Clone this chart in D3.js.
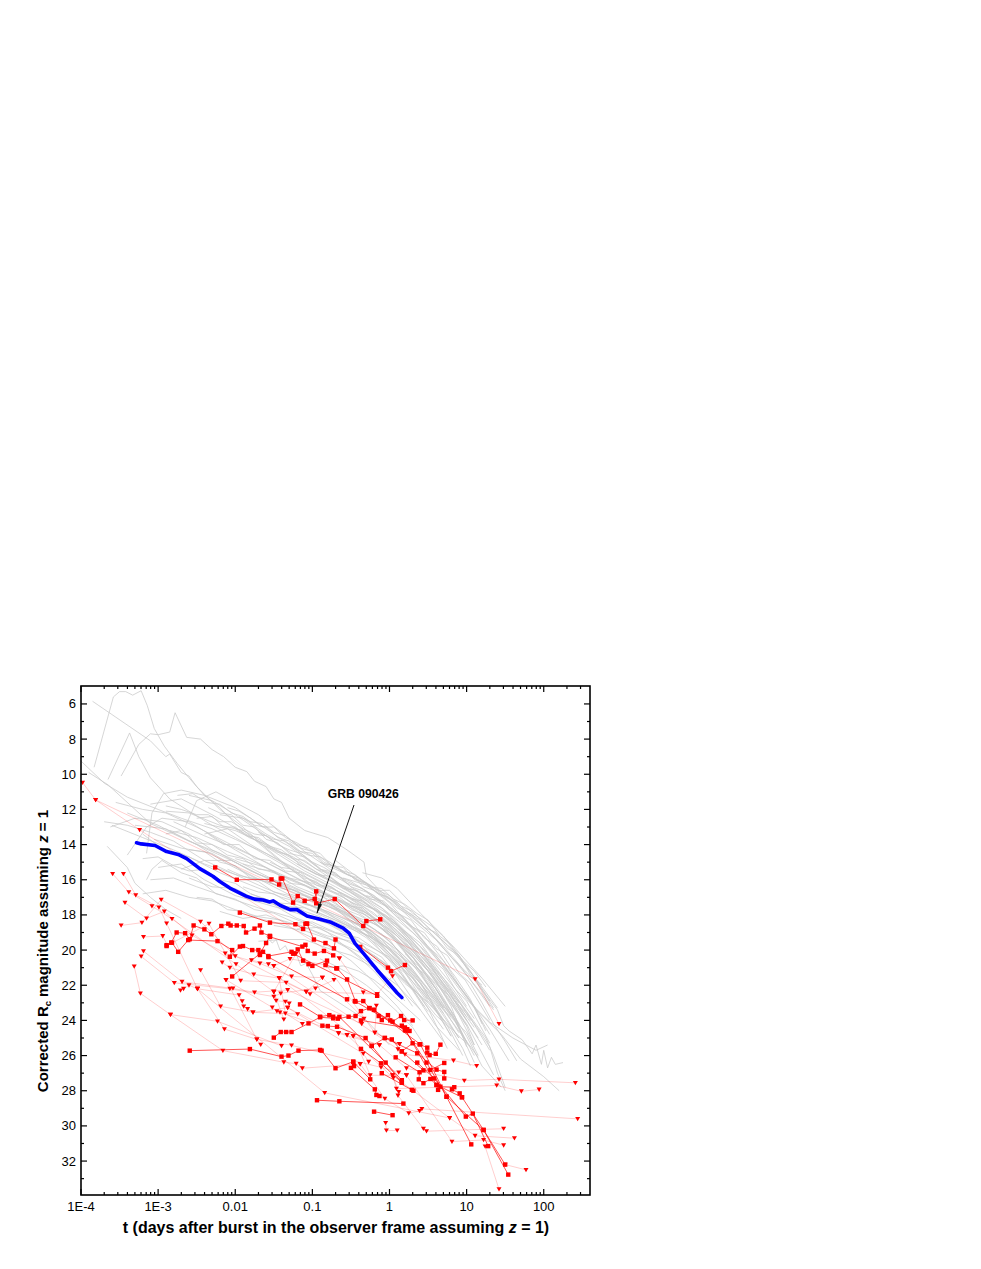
<!DOCTYPE html>
<html><head><meta charset="utf-8"><script src="https://d3js.org/d3.v7.min.js"></script>
<style>html,body{margin:0;background:#fff}svg{display:block}text{font-family:"Liberation Sans",Arial,sans-serif;fill:#000}</style></head>
<body><svg id="c" width="981" height="1269"></svg>
<script>
// All series are [log10(t in days), corrected Rc magnitude]
const xTickLabels=["1E-4","1E-3","0.01","0.1","1","10","100"];
const yTickValues=[6,8,10,12,14,16,18,20,22,24,26,28,30,32];
const annotationText="GRB 090426";
const annotationFrom=[-.46,11.75], annotationTo=[-.94,17.9], annotationLabel=[-.34,11.35];
const blueCurve=[[-3.28,13.9],[-3.22,13.96],[-3.04,14.05],[-2.89,14.4],[-2.74,14.56],[-2.63,14.8],[-2.46,15.37],[-2.29,15.8],[-2.2,16.1],[-2.07,16.47],[-1.86,16.93],[-1.75,17.1],[-1.64,17.15],[-1.55,17.26],[-1.51,17.2],[-1.42,17.45],[-1.29,17.7],[-1.2,17.7],[-1.07,18.06],[-.9,18.25],[-.77,18.4],[-.6,18.75],[-.52,19.05],[-.45,19.6],[-.34,20.17],[-.16,21.13],[.1,22.44],[.16,22.7]];
const grayCurves=[
[[-3.83,9.6],[-3.58,5.6],[-3.5,5.3],[-3.42,5.3],[-3.33,5.5],[-3.22,5.25],[-3.14,6.1],[-3.05,7.4],[-2.92,8.4],[-2.75,9.4],[-2.6,10.2],[-2.4,11.2],[-2.2,11.9],[-2,12.8],[-1.7,13.9],[-1.4,15],[-1,16.3],[-.7,17.3],[-.4,18.5],[0,20.4],[.3,22.3],[.6,24.3],[.9,25.7]],
[[-3.85,5.85],[-3.6,6.6],[-3.3,7.5],[-3.1,8.1],[-2.9,9],[-2.85,8.85],[-2.7,9.9],[-2.6,10.1],[-2.5,10.7],[-2.2,12],[-1.9,13],[-1.6,14.2],[-1.3,15.3],[-1,16.4],[-.6,18],[-.2,19.6],[.2,21.6],[.5,23.5]],
[[-3.65,10.3],[-3.37,7.65],[-3.25,9],[-3.1,10.2],[-2.85,11.4],[-2.6,12.1],[-2.3,12.9],[-2,13.6],[-1.6,14.6],[-1.2,15.6],[-.8,16.5],[-.4,17.5],[0,19],[.3,20.6],[.7,23.3]],
[[-3.48,10.1],[-3.25,8.3],[-3.1,7.7],[-3,7.75],[-2.85,7.6],[-2.78,6.5],[-2.63,7.9],[-2.45,8],[-2.3,8.6],[-2.15,9],[-2,9.6],[-1.85,9.85],[-1.75,10.4],[-1.6,10.7],[-1.5,11.4],[-1.4,11.6],[-1.3,12.5],[-1.1,13.2],[-.8,13.6],[-.55,14.3],[-.33,15],[-.3,15.8],[-.13,16.6],[0,16.6],[.3,17.9],[.6,18.8],[.85,19.9],[1.2,21.6],[1.5,23.2]],
[[-4,9.25],[-3.7,10.5],[-3.4,11.3],[-3,12],[-2.7,12.5],[-2.3,13.1],[-2,13.7],[-1.6,14.5],[-1.2,15.4],[-.8,16.3],[-.4,17.4],[0,18.9],[.3,20.4],[.6,22.2],[.85,24],[1.1,26]],
[[-3.9,9.9],[-3.65,10.6],[-3.3,12],[-3.1,12.8],[-2.8,13.4],[-2.4,14.2],[-2,15],[-1.6,15.9],[-1.2,16.7],[-.8,17.5],[-.4,18.4],[0,19.7],[.3,21.1],[.6,22.9],[.9,25]],
[[-3.66,14.1],[-3.4,15.3],[-3.3,16.2],[-3.1,17],[-2.9,17.7],[-2.7,18.2]],
[[-3.4,14.6],[-3.15,13],[-2.95,12.5],[-2.6,12.7],[-2.3,13.5],[-2,14.3],[-1.6,15.3],[-1.2,16.4],[-.8,17.1],[-.4,18.2],[0,19.4],[.4,21.8],[.8,24.9]],
[[-3.15,14.5],[-3.08,12.2],[-2.93,11.1],[-2.7,10.9],[-2.4,11.2],[-2,11.9],[-1.7,12.8],[-1.3,14],[-1,15],[-.6,16.4],[-.2,17.7],[.2,19.3],[.5,21],[.8,23.2],[1,25.5]],
[[-2.65,13],[-2.5,11.5],[-2.25,11],[-2,11.6],[-1.7,12.3],[-1.4,13.3],[-1.1,14.4],[-.8,15.3],[-.5,16.4],[-.1,17.6],[.3,19.5],[.7,22],[1.1,24.4]],
[[-3.7,12.7],[-3.4,12.9],[-3.1,13.3],[-2.8,13.8],[-2.4,14.9],[-2,15.7],[-1.6,16.5],[-1.2,17.2],[-.8,17.8],[-.4,18.6],[0,20],[.3,21.5],[.7,24]],
[[-3.62,13],[-3.3,12.5],[-2.95,12.7],[-2.6,13.4],[-2.3,14.3],[-1.9,15.1],[-1.5,16],[-1.1,16.9],[-.7,17.7],[-.3,18.9],[.1,20.6],[.5,23.3],[.75,25.6]],
[[-3.55,11.6],[-3.2,12],[-2.9,12.2],[-2.5,13],[-2.1,13.9],[-1.7,14.8],[-1.3,15.7],[-.9,16.6],[-.5,17.6],[-.1,18.8],[.3,20.4],[.6,22.2],[1,25.2]],
[[-3.4,12.2],[-3,12.9],[-2.6,13.8],[-2.2,14.5],[-1.8,15.5],[-1.4,16.2],[-1,16.9],[-.6,17.8],[-.2,19.2],[.2,21.2],[.5,23]],
[[-3.2,13.4],[-2.9,14.4],[-2.6,14.7],[-2.2,15.6],[-1.8,16.3],[-1.4,17],[-1,17.5],[-.6,18.3],[-.2,19.4],[.2,21],[.5,22.7],[.8,24.9]],
[[-3,15.3],[-2.7,15.1],[-2.4,16],[-2,16.9],[-1.6,17.4],[-1.2,17.9],[-.8,18.5],[-.4,19.5],[0,21.3],[.3,23.2]],
[[-2.85,13.2],[-2.5,13.6],[-2.1,14.4],[-1.7,15.1],[-1.3,16],[-.9,16.7],[-.5,17.4],[-.1,18.4],[.3,20],[.7,22.4],[1,24.3]],
[[-2.9,12.1],[-2.6,12.2],[-2.2,12.9],[-1.9,13.2],[-1.5,14.2],[-1.1,15.2],[-.7,16.2],[-.3,17.2],[.1,18.6],[.4,20],[.8,22.6],[1.2,25.4]],
[[-2.6,11.2],[-2.3,11.5],[-2,12.3],[-1.6,13.5],[-1.2,14.7],[-.8,15.8],[-.4,16.9],[0,18],[.4,19.8],[.7,21.6],[1,23.5],[1.3,25.7]],
[[-3.1,11.7],[-2.7,11.4],[-2.3,12.3],[-1.9,13.3],[-1.5,14.4],[-1.1,15.5],[-.7,16.4],[-.3,17.4],[.1,18.6],[.5,20.5],[.9,23]],
[[-3.6,12.9],[-3.2,13.6],[-2.8,14.3],[-2.4,15.1],[-2,15.7],[-1.6,16.1],[-1.2,16.8],[-.8,17.3],[-.4,18],[0,19],[.4,20.9],[.8,23.5],[1.1,26.4]],
[[-2.4,13.4],[-2.1,13.1],[-1.8,14],[-1.4,15],[-1,15.9],[-.6,16.8],[-.2,17.9],[.2,19.5],[.6,21.7],[1,24.2],[1.35,27.1]],
[[-2.7,15.4],[-2.4,14.9],[-2.05,14.9],[-1.7,15.7],[-1.3,16.3],[-.9,17.1],[-.5,18],[-.1,19.1],[.3,20.8],[.6,22.6],[.9,24.7]],
[[-2.2,12.3],[-1.9,12.5],[-1.6,13.4],[-1.3,14.1],[-.9,15.4],[-.5,16.1],[-.1,17.2],[.3,18.8],[.7,20.8],[1.1,23.3],[1.3,24.8]],
[[-3.1,16],[-2.8,15.9],[-2.5,16.4],[-2.1,17],[-1.7,17.6],[-1.3,18.1],[-.9,18.8],[-.5,19.6],[-.1,20.6],[.3,22.1],[.7,24.5]],
[[-1.6,19.2],[-1.52,19.6],[-1.47,19.4],[-1.42,20],[-1.35,19.75],[-1.3,20.2],[-1.22,20.1],[-1.15,20.9],[-1.08,20.75],[-1,21.4],[-.9,22.3],[-.65,23],[-.3,24],[0,25.4]],
[[-1.8,16.8],[-1.5,17.3],[-1.2,17.4],[-.8,18.1],[-.4,18.9],[0,19.9],[.4,21.9],[.75,24.3],[.95,26]],
[[-1.9,15.1],[-1.5,15.6],[-1.1,16.3],[-.7,17.1],[-.3,17.9],[.1,19.2],[.5,21.2],[.9,23.7],[1.1,25.4]],
[[-1.6,14.1],[-1.25,14.7],[-.9,15.7],[-.5,16.6],[-.1,17.6],[.3,19],[.6,20.3],[1,22.6],[1.3,24.5],[1.55,26.3]],
[[-1.4,15.8],[-1,16.2],[-.6,17],[-.2,18.2],[.2,19.8],[.6,22],[1,24.9],[1.2,26.6],[1.45,27.8]],
[[-1.2,15.1],[-.85,15.9],[-.45,16.6],[-.05,17.5],[.35,19.2],[.75,21.2],[1.15,23.5],[1.45,24.8],[1.7,26.2],[2,27.2],[2.2,28]],
[[-.9,15],[-.6,15.6],[-.3,16.2],[0,17.1],[.3,18.3],[.6,19.4],[.9,20.9],[1.2,22.5],[1.35,23.4]],
[[-.7,14.9],[-.4,15.9],[-.1,16.7],[.2,17.8],[.5,18.9],[.8,20.4],[1.1,21.7],[1.4,23.4],[1.48,24.3],[1.55,24.6],[1.72,25.1],[1.85,25.9],[1.9,25.4],[1.97,26.5],[2,25.7],[2.05,26.7],[2.1,26.1],[2.15,26.5],[2.25,26.4]],
[[-.6,15.9],[-.3,16.3],[0,17.3],[.3,18.8],[.6,20.4],[1,22.8],[1.3,24.1],[1.6,25],[1.9,25.7],[2.05,25.4]],
[[-.35,15.6],[-.1,15.9],[.1,16.5],[.4,17.9],[.7,19.2],[.95,20.7],[1.2,22.1],[1.4,23.3]],
[[-1.1,17.3],[-.7,18],[-.3,18.7],[.1,20],[.5,22.2],[.9,24.6],[1.15,26.1]],
[[-1.5,18.6],[-1.1,18.9],[-.7,19.5],[-.3,20.3],[.1,21.4],[.5,23],[.9,24.9],[1.05,25.5]],
[[-.5,18.3],[-.2,19.2],[.1,20.4],[.4,21.9],[.7,23.4],[1,24.7],[1.15,26]],
[[-.15,18],[.1,18.9],[.4,20.3],[.7,21.9],[1,23.5],[1.25,25],[1.35,26],[1.5,27.8]],
[[-2,14.8],[-1.6,15.3],[-1.2,16.1],[-.8,16.9],[-.4,17.8],[0,18.8],[.4,20.5],[.8,22.6],[1.15,25]],
[[-2.4,12.8],[-2,13.2],[-1.6,14],[-1.2,15.1],[-.8,16],[-.4,17],[0,18.3],[.4,20.1],[.8,22.1],[1.1,23.9]],
[[-2.8,12.7],[-2.4,13.5],[-2,14.2],[-1.6,15],[-1.2,15.9],[-.8,16.8],[-.4,17.7],[0,19.1],[.4,21.2],[.8,23.8]],
[[-3.3,12.9],[-2.9,13.1],[-2.5,14],[-2.1,15.1],[-1.7,16],[-1.3,16.5],[-.9,17.2],[-.5,18.1],[-.1,19.4],[.3,21.3],[.7,23.6]],
[[-3.05,13.7],[-2.7,14.2],[-2.3,14.5],[-1.9,15.5],[-1.5,16.4],[-1.1,17.3],[-.7,18.2],[-.3,19.3],[.1,20.9],[.45,23.2]],
[[-.95,17.8],[-.6,18.5],[-.25,19],[.1,20.2],[.5,21.5],[.85,23.8],[1,25.3]],
[[-1.3,16.8],[-.95,17.3],[-.55,17.9],[-.15,18.6],[.25,20],[.65,21.9],[1,24]],
[[-2.75,11.2],[-2.55,11.1],[-2.38,11.6],[-2.2,11.7],[-2.05,12.2],[-1.9,12.4],[-1.75,12.9],[-1.6,13],[-1.45,13.6],[-1.3,13.8],[-1.15,14.2],[-1,14.4],[-.85,15],[-.7,15.3],[-.5,15.8],[-.3,16.3],[-.1,16.9],[.1,17.6],[.3,18.1],[.5,18.9],[.7,19.8],[.9,20.8],[1.1,22],[1.3,23.2]],
[[-2.5,12.5],[-2.3,12.4],[-2.15,13],[-2,13],[-1.85,13.5],[-1.7,13.6],[-1.55,14.1],[-1.4,14.3],[-1.25,14.8],[-1.1,14.9],[-.95,15.4],[-.75,15.7],[-.55,16.2],[-.35,16.5],[-.15,17.2],[.05,17.7],[.25,18.5],[.45,19.2],[.65,20.3],[.85,21.5],[1.05,22.8],[1.2,24.2]],
[[-2.35,11.9],[-2.2,12.2],[-2.05,12.3],[-1.9,12.9],[-1.75,13],[-1.6,13.7],[-1.45,13.9],[-1.3,14.5],[-1.1,14.7],[-.9,15.4],[-.7,15.6],[-.5,16.4],[-.3,16.7],[-.1,17.3],[.1,18.1],[.3,18.7],[.5,19.8],[.7,20.6],[.9,22],[1.1,23.2],[1.25,24.6]],
[[-2.9,13.4],[-2.7,13.2],[-2.5,13.9],[-2.3,14],[-2.1,14.6],[-1.9,14.8],[-1.7,15.4],[-1.5,15.5],[-1.3,16.2],[-1.1,16.3],[-.9,16.9],[-.7,17],[-.5,17.7],[-.3,18],[-.1,18.8],[.1,19.5],[.3,20.7],[.5,21.7],[.7,23.1],[.9,24.2]],
[[-2.6,14.3],[-2.4,14.4],[-2.2,15],[-2,15.2],[-1.8,15.9],[-1.6,16],[-1.4,16.5],[-1.2,16.6],[-1,17.2],[-.8,17.3],[-.6,17.9],[-.4,18.3],[-.2,18.8],[0,19.5],[.2,20.4],[.4,21.3],[.6,22.7],[.8,23.7]],
[[-2.1,15.4],[-1.9,15.8],[-1.7,16.1],[-1.5,16.7],[-1.3,16.9],[-1.1,17.4],[-.9,17.6],[-.7,18.2],[-.5,18.6],[-.3,19.2],[-.1,19.9],[.1,20.7],[.3,21.6],[.5,22.9],[.7,24]],
[[-1.9,16.4],[-1.7,16.7],[-1.5,16.8],[-1.3,17.3],[-1.1,17.8],[-.9,18.1],[-.7,18.7],[-.5,19.1],[-.3,19.9],[-.1,20.4],[.1,21.5],[.3,22.8],[.5,24],[.7,25.2]],
[[-2.5,17],[-2.3,17.1],[-2.1,17.7],[-1.9,17.8],[-1.7,18.2],[-1.5,18.4],[-1.3,18.7],[-1.1,19.1],[-.9,19.5],[-.7,20],[-.5,20.6],[-.3,21.4],[-.1,22.3],[.1,23.2],[.3,24.3]],
[[-3.2,14.8],[-3,14.7],[-2.8,15.2],[-2.6,15.5],[-2.4,15.4],[-2.2,16],[-2,16.2],[-1.8,16.8],[-1.6,17.1],[-1.4,17.7],[-1.2,18.2],[-1,18.5],[-.8,19],[-.6,19.7],[-.4,20.4],[-.2,21.2],[0,22.2]],
[[-1.3,13.9],[-1.15,14.4],[-1,14.5],[-.85,15.1],[-.7,15.2],[-.55,15.7],[-.4,15.9],[-.25,16.4],[-.1,16.5],[.05,17.1],[.2,17.4],[.35,17.9],[.5,18.3],[.65,19.2],[.8,19.7],[.95,20.6],[1.1,21.2],[1.25,22.1]],
[[-1.7,13.3],[-1.5,13.7],[-1.35,13.8],[-1.2,14.3],[-1.05,14.6],[-.9,14.7],[-.75,15.2],[-.6,15.5],[-.45,15.7],[-.3,16.2],[-.15,16.6],[0,16.9],[.15,17.5],[.3,17.8],[.45,18.5],[.6,19.1],[.75,19.7],[.9,20.3],[1.05,21.2],[1.2,22.3],[1.35,23.3]],
[[-.3,16.9],[-.15,17.1],[0,17.7],[.15,18],[.3,18.7],[.45,19],[.6,19.9],[.75,20.3],[.9,21.3],[1.05,21.9],[1.2,23],[1.35,24.2],[1.5,25.2],[1.65,26.3]],
[[-.5,17.1],[-.35,17.2],[-.2,17.7],[-.05,18],[.1,18.6],[.25,19.1],[.4,19.6],[.55,20.5],[.7,21.1],[.85,22.2],[1,22.9],[1.15,24.1],[1.3,25.3]],
[[-.8,16.9],[-.65,17],[-.5,17.5],[-.35,17.6],[-.2,18.2],[-.05,18.4],[.1,19.1],[.25,19.6],[.4,20.5],[.55,21.2],[.7,22.1],[.85,23.2],[1,24.3],[1.1,25.4]],
[[-1.05,16],[-.9,16.3],[-.75,16.4],[-.6,16.9],[-.45,17.1],[-.3,17.5],[-.15,17.7],[0,18.4],[.15,18.9],[.3,19.7],[.45,20.3],[.6,21.2],[.75,22],[.9,22.9],[1.05,24]],
[[-1.55,15],[-1.4,15.3],[-1.25,15.4],[-1.1,15.9],[-.95,16.1],[-.8,16.6],[-.65,16.8],[-.5,17.3],[-.35,17.5],[-.2,18],[-.05,18.4],[.1,19],[.25,19.5],[.4,20.3],[.55,21],[.7,21.9],[.85,22.8],[1,23.8]],
[[-2.9,11.8],[-2.7,12],[-2.5,12.3],[-2.35,12.3],[-2.2,12.7],[-2.05,12.7],[-1.9,13.1],[-1.75,13.4],[-1.6,13.5],[-1.45,14],[-1.3,14.3],[-1.15,14.5],[-1,15],[-.85,15.3],[-.7,15.7],[-.55,16.1],[-.4,16.4],[-.2,16.9],[0,17.7]],
[[-.9,20.5],[-.7,20.9],[-.5,21.4],[-.3,22],[-.1,22.7],[.1,23.5],[.3,24.4],[.45,25.4]],
[[-.2,20.3],[0,21],[.2,21.9],[.4,22.6],[.6,23.7],[.8,24.5],[.95,25.6],[1.05,26.6]],
[[.2,20.2],[.4,21],[.6,21.9],[.8,22.7],[1,23.6],[1.15,24.5],[1.3,25.5],[1.4,27],[1.5,28]],
[[-3.2,16.8],[-2.9,16.6],[-2.6,17],[-2.3,17.2],[-2,17.7],[-1.7,18.1],[-1.4,18.3],[-1.1,18.7],[-.8,19.2],[-.5,19.5],[-.2,20.3],[.1,21.3],[.35,22.4]],
[[-2.6,15.9],[-2.3,16.4],[-2,16.5],[-1.7,17.2],[-1.4,17.5],[-1.1,17.6],[-.8,18.2],[-.5,18.8],[-.2,19.3],[.1,20.3],[.4,21.7],[.7,23.3]],
[[-2.2,17.8],[-1.9,18.2],[-1.6,18],[-1.3,18.5],[-1,18.4],[-.7,19],[-.4,19.3],[-.1,20.2],[.2,21.3],[.5,22.8]],
[[-1.2,18.8],[-.9,18.7],[-.6,19.2],[-.3,19.7],[0,20.4],[.3,21.6],[.6,23.1],[.9,25]],
[[-1.7,19.5],[-1.4,19.4],[-1.1,19.4],[-.8,19.9],[-.5,20.3],[-.2,21],[.1,22],[.4,23.4]],
[[-.8,21],[-.6,20.9],[-.4,21.2],[-.2,21.7],[0,22.4],[.2,23.2],[.4,24]],
[[-1.95,12.4],[-1.8,12.7],[-1.65,12.8],[-1.5,13.3],[-1.35,13.5],[-1.2,14],[-1.05,14.2],[-.9,14.7],[-.77,15],[-.6,15.6],[-.45,15.9],[-.34,16.4],[-.2,16.6],[-.05,17],[.1,17.3],[.25,17.9],[.4,18.3],[.52,18.8],[.7,19.5],[.91,20.5],[1.1,21.5],[1.3,22.9]],
[[-2.1,11.9],[-1.95,12.1],[-1.8,12.5],[-1.65,13],[-1.5,13],[-1.35,13.6],[-1.2,13.9],[-1.05,14.3],[-.9,14.5],[-.75,15.2],[-.6,15.3],[-.45,16],[-.3,16.2],[-.15,16.8],[0,17],[.15,17.6],[.3,18],[.45,18.7],[.6,19],[.75,19.9],[.9,20.3],[1.05,21.4],[1.2,22]],
[[-3.15,16],[-3.08,15.4],[-2.95,14.9],[-2.7,15.6],[-2.5,15.9],[-2.25,16.8],[-2,17.1],[-1.75,17.7],[-1.5,17.9],[-1.25,18.4],[-1,18.9],[-.75,19.4],[-.5,20],[-.25,20.8],[0,21.8],[.2,22.9]],
[[-2.35,13.4],[-2.15,14],[-1.95,14],[-1.75,14.8],[-1.55,14.9],[-1.35,15.5],[-1.15,15.6],[-.95,16.3],[-.75,16.5],[-.55,16.9],[-.35,17.4],[-.15,17.8],[.05,18.3],[.25,19.2],[.45,20],[.65,21.1],[.85,22.2],[1,23.2]],
[[-2,13.1],[-1.82,13.6],[-1.65,13.9],[-1.48,14.4],[-1.3,14.6],[-1.12,15.3],[-.95,15.7],[-.78,15.8],[-.6,16.5],[-.42,16.6],[-.25,17.1],[-.08,17.2],[.1,17.9],[.28,18.3],[.45,19.3],[.62,19.8],[.8,21],[.98,21.7],[1.15,22.9],[1.3,24]]
];
const detectionChains=[
[[-2.26,15.3],[-1.98,16],[-1.53,15.98],[-1.43,16.27],[-1.41,15.93],[-1.39,15.93],[-1.25,17.3],[-1.19,16.93],[-1.1,17.2],[-.97,17.1],[-.95,16.66],[-.95,17.34],[-.71,17.1],[-.34,18.63],[-.3,18.35],[-.12,18.25]],
[[-1.94,17.87],[-1.55,18.44],[-1.22,18.53],[-1.12,18.8],[-1.09,18.5],[-1.07,18.5]],
[[-1.55,19.25],[-1.13,19.8],[-1.09,19.7],[-1.06,20.05],[-.97,20.2],[-.85,20.05],[-.73,20.3]],
[[-1.07,18.5],[-.98,19.4],[-.83,19.6],[-.72,19.9],[-.7,19.4]],
[[-2.89,19.72],[-2.83,19.57],[-2.76,19],[-2.65,19.04],[-2.59,19.38],[-2.54,18.6],[-2.4,18.82],[-2.31,19.1],[-2.18,18.63],[-2.09,18.5],[-2.06,18.6],[-1.98,18.6],[-1.89,18.63],[-1.86,19],[-1.75,18.78],[-1.68,18.6],[-1.66,19],[-1.55,19.2]],
[[-2.89,19.77],[-2.82,19.58],[-2.74,20.1],[-2.61,19.43],[-2.23,19.49],[-2.04,20],[-2.07,20.38],[-1.94,19.8],[-1.9,19.77],[-1.78,20],[-1.7,20],[-1.68,20.28],[-1.64,20.1],[-1.57,20.34],[-1.27,20.1],[-1.24,20.2],[-1.19,19.96],[-1.12,20.6],[-1.05,20.8],[-1,20.9],[-.81,20.6],[-.83,20.85],[-.69,21.04]],
[[-2.04,21.5],[-1.68,20.2],[-1.6,19.6],[-1.55,19.2]],
[[-1.16,23.09],[-.9,23.79],[-.78,23.7],[-.73,23.79],[-.67,23.9],[-.53,23.79],[-.44,23.75],[-.37,23.47],[-.26,23.3],[-.2,23.4],[-.14,23.75],[-.1,23.98],[-.02,23.7],[.04,24.07],[.15,23.75],[.19,23.98],[.3,24]],
[[-1.5,24.98],[-1.41,24.66],[-1.34,24.66],[-1.27,24.66],[-1.05,24.17],[-.9,23.82],[-.73,23.88]],
[[-2.59,25.72],[-1.81,25.63],[-1.4,26.06],[-1.31,26],[-1.18,25.72],[-.9,25.68],[-.88,25.72],[-.7,26.72],[-.47,26.35],[-.46,26.6]],
[[-.94,28.54],[-.65,28.6],[.18,28.73]],
[[-.87,24.3],[-.8,24.32],[-.68,24.36],[-.31,25],[-.23,25.45],[-.06,25],[.03,25.08],[.16,25.76],[.3,25.3],[.39,25.36],[.49,25.55],[.49,25.83],[.52,25.97],[.6,25.9],[.66,25.38]],
[[-.68,21.04],[-.55,21.67],[-.44,22.93],[-.34,22.9],[-.26,23.3],[.01,24],[.2,24.55],[.48,26.4],[.74,28.34],[1.06,31.05]],
[[-.45,22.9],[.21,24.58],[.61,27.67],[.94,28.37],[1.22,30.23],[1.5,32.2]],
[[-.2,23.4],[.4,25.36],[.74,28.34],[1.22,30.23],[1.54,32.77]],
[[.36,26.4],[.58,27.3],[.99,29.47],[1.08,29.3],[1.28,31.15]],
[[-.2,29.19],[.04,29.39]],
[[-.5,26.7],[-.19,27.92],[-.17,28.24],[-.13,28.3]],
[[-.1,27],[.29,27.95],[.31,28]],
[[-.47,26.35],[-.25,27.35]],
[[-.37,25.62],[-.11,26.44],[.16,27.54]],
[[-.23,25.45],[.16,27.54]],
[[-.06,25],[.36,25.87],[.61,26.8],[.71,26.93],[.71,27.3]],
[[.08,26.1],[.39,26.95],[.38,27.35],[.44,27.57],[.53,27.33],[.61,27.67],[.63,27.95],[.66,27.77],[.84,27.8],[.81,27.92],[.91,28.15],[.94,28.37]],
[[.16,25.76],[.44,26.84],[.53,26.82],[.71,26.42]],
[[-.38,19.82],[-.02,21],[.02,21.2],[.2,20.85]],
[[-.37,24],[.2,24.4],[.23,24.5],[.26,24.6],[.16,24.3]],
[[-1.57,20.4],[-.55,22.8]],
[[-1.25,20.2],[-.16,22.6]],
[[-.65,23.8],[-.05,26.4],[.16,27.4]]
];
const limitChains=[
[[-3.98,10.47],[-3.81,11.46],[1.11,21.65],[1.42,24.2]],
[[-3.81,11.46],[-3.24,13.16],[-.65,20.47]],
[[-3.59,15.66],[-3.38,16.7],[-3.08,17.5],[-2.82,18.23],[-1.99,20.8],[-1.5,22.37],[-1.37,23.94]],
[[-3.45,15.66],[-3.29,16.87],[-2.99,17.57],[-2.89,18.48],[-2.49,22.2],[-2.14,24.49],[-1.72,25.08],[-1.67,25.38]],
[[-3.43,17.3],[-3.15,18.2],[-2.92,17.8],[-2.56,19.16],[-2.13,20.19],[-1.68,20.76],[-1.27,21.5],[-.87,21.57]],
[[-3.48,18.6],[-3.21,18.44],[-2.96,17.13],[-2.45,18.38],[-2,20.34],[-1.43,21.6],[-1.08,22.37],[-.16,22.5]],
[[-3.19,19.25],[-2.94,19.2],[-2.88,19.73],[-2.34,18.5],[-1.93,21.74],[-1.34,21.85],[-1.03,22.5]],
[[-3.31,20.93],[-3.23,22.46],[-2.84,23.67],[-2.23,24.05],[-1.4,25.45]],
[[-3.22,20.36],[-2.79,21.86],[-2.07,22.2],[-1.5,22.65],[-1.41,22.46],[-.96,22.18],[-.72,21.7]],
[[-3.19,20.06],[-2.69,21.8],[-2.03,22.18],[-1.75,22.4],[-1.32,22.27],[-.36,24.2]],
[[-2.71,22.29],[-2.67,22.2],[-2.6,22],[-2.49,22.2],[-1.95,22.56],[-1.91,22.9],[-1.89,23.2],[-1.84,23.35],[-1.77,23.54],[-1.19,23.64]],
[[-2.45,21.14],[-2.19,23.2],[-1.77,23.54],[-1.32,23.28],[-.66,24.73]],
[[-2.17,20.7],[-2.07,21],[-1.76,21.38],[-1.43,21.6],[-.47,24.89],[-.13,25.4]],
[[-2.12,21.69],[-1.52,23.26],[-1.46,23.47],[-1.42,23.54],[-.55,24.83]],
[[-1.79,20.57],[-1.57,20.8],[-1.5,20.9],[-1.29,20.5],[-.82,20.85],[-.19,24.7],[.13,25.34]],
[[-1.5,22.37],[-1.47,22.88],[-1.35,22.93],[-1.3,23.03],[-1.32,23.28],[-.34,25.89],[-.27,26.35]],
[[-2.84,23.67],[-2.16,25.72],[-1.37,26.38],[-1.21,26.46],[-1.13,26.72],[-.38,26.48]],
[[-2.12,21.69],[-1.72,25.08],[-1.27,25.42],[-.11,26.67],[.12,26.95],[.22,27.12]],
[[-2.49,22.2],[-.84,28.12],[.78,29.55]],
[[-1.5,20.9],[.11,25.64],[.2,25.93],[.83,26.28],[1.13,26.59]],
[[-.66,24.73],[-.13,25.4],[.22,26.72],[.97,27.42],[1.42,27.35],[2.41,27.55]],
[[-.55,24.83],[.05,27.27],[.09,27.88],[1.39,27.7],[1.71,28.03],[1.94,27.93]],
[[-.47,24.89],[-.25,27.12],[.04,27.12],[.12,28.07],[.11,28.27],[.44,30.16],[.48,30.3],[1.48,30.16]],
[[-.38,26.48],[-.06,28.45],[.25,29.28],[.39,29.15],[.42,29.03],[2.44,29.6]],
[[-.05,29.83],[-.04,30.26],[.1,30.26]],
[[.04,27.12],[.78,29.55],[1.11,30.56],[1.62,30.7]],
[[.22,27.12],[.81,30.89],[1.22,30.8],[1.48,31.1]],
[[1.24,31.17],[1.42,33.6]],
[[1.5,32.2],[1.77,32.5]],
[[-.65,20.47],[-.34,22.4],[-.16,22.5],[.04,21.48]],
[[-.17,23.16],[-.19,24.7],[.13,25.34]],
[[-1.5,22.37],[-1.21,20.2]],
[[-1.43,21.6],[-1.35,23.6],[-1.13,24.2]],
[[-1.08,22.37],[-.87,21.57],[-.33,23.9]]
];
const W=981,H=1269,L=81,R=590,T=686,B=1195;
const x=d3.scaleLog().domain([1e-4,398]).range([L,R]);
const y=d3.scaleLinear().domain([4.98,33.93]).range([T,B]);
const px=d=>x(Math.pow(10,d[0])), py=d=>y(d[1]);
const line=d3.line().x(px).y(py);
const svg=d3.select("#c");
svg.append("g").selectAll("path").data(grayCurves).join("path").attr("d",line).attr("fill","none").attr("stroke","#c8c8c8").attr("stroke-width",.75);
svg.append("g").selectAll("path").data(limitChains).join("path").attr("d",line).attr("fill","none").attr("stroke","#ff0000").attr("stroke-opacity",.32).attr("stroke-width",.6);
svg.append("g").selectAll("path").data(detectionChains).join("path").attr("d",line).attr("fill","none").attr("stroke","#f00").attr("stroke-opacity",.85).attr("stroke-width",.8);
svg.append("g").selectAll("rect").data(detectionChains.flat()).join("rect").attr("x",d=>px(d)-2.2).attr("y",d=>py(d)-2.2).attr("width",4.4).attr("height",4.4).attr("fill","#f00");
svg.append("g").selectAll("path").data(limitChains.flat()).join("path").attr("transform",d=>`translate(${px(d)},${py(d)})`).attr("d","M-2.5,-1.9L2.5,-1.9L0,2.4Z").attr("fill","#f00");
svg.append("path").datum(blueCurve).attr("d",line).attr("fill","none").attr("stroke","#0000ff").attr("stroke-width",3.6).attr("stroke-linecap","round").attr("stroke-linejoin","round");
// annotation
const ax=x(Math.pow(10,annotationFrom[0])),ay=y(annotationFrom[1]),bx=x(Math.pow(10,annotationTo[0])),by=y(annotationTo[1]);
svg.append("line").attr("x1",ax).attr("y1",ay).attr("x2",bx).attr("y2",by).attr("stroke","#111").attr("stroke-width",1);
const ang=Math.atan2(ay-by,ax-bx);
const hd=[-.2,.2].map(a=>[bx+10*Math.cos(ang+a),by+10*Math.sin(ang+a)]);
svg.append("path").attr("d",`M${hd[0]}L${bx},${by}L${hd[1]}Z`).attr("fill","#111");
svg.append("text").attr("x",x(Math.pow(10,annotationLabel[0]))).attr("y",y(annotationLabel[1])).attr("text-anchor","middle").attr("font-size",12.2).attr("font-weight","bold").text(annotationText);
// axes
const decades=d3.range(-4,3).map(e=>Math.pow(10,e));
const minorX=x.ticks(40).filter(v=>v>1e-4&&v<398&&!decades.some(d=>Math.abs(d/v-1)<1e-6));
const yMajor=yTickValues, yMinor=d3.range(7,34,2);
const fr=svg.append("g");
function tx(vals,len){vals.forEach(v=>{const p=x(v);
 fr.append("line").attr("x1",p).attr("x2",p).attr("y1",B).attr("y2",B-len);
 fr.append("line").attr("x1",p).attr("x2",p).attr("y1",T).attr("y2",T+len);});}
function ty(vals,len){vals.forEach(v=>{const p=y(v);
 fr.append("line").attr("y1",p).attr("y2",p).attr("x1",L).attr("x2",L+len);
 fr.append("line").attr("y1",p).attr("y2",p).attr("x1",R).attr("x2",R-len);});}
tx(decades,6);tx(minorX,3);ty(yMajor,6);ty(yMinor,3);
fr.selectAll("line").attr("stroke","#000").attr("stroke-width",1.2);
fr.append("rect").attr("x",L).attr("y",T).attr("width",R-L).attr("height",B-T).attr("fill","none").attr("stroke","#000").attr("stroke-width",1.6);
decades.forEach((d,i)=>svg.append("text").attr("x",x(d)).attr("y",B+16).attr("text-anchor","middle").attr("font-size",13).text(xTickLabels[i]));
yMajor.forEach(v=>svg.append("text").attr("x",L-5).attr("y",y(v)+4.5).attr("text-anchor","end").attr("font-size",13).text(v));
const xt=svg.append("text").attr("x",336).attr("y",1233).attr("text-anchor","middle").attr("font-size",16).attr("font-weight","bold");
xt.append("tspan").text("t (days after burst in the observer frame assuming ");
xt.append("tspan").attr("font-style","italic").text("z");
xt.append("tspan").text(" = 1)");
const yt=svg.append("text").attr("transform","translate(48,951) rotate(-90)").attr("text-anchor","middle").attr("font-size",15).attr("font-weight","bold");
yt.append("tspan").text("Corrected R");
yt.append("tspan").attr("font-size",9.5).attr("dy",3).text("c");
yt.append("tspan").attr("dy",-3).attr("dx",4).text("magnitude assuming ");
yt.append("tspan").attr("font-style","italic").text("z");
yt.append("tspan").text(" = 1");
</script></body></html>
